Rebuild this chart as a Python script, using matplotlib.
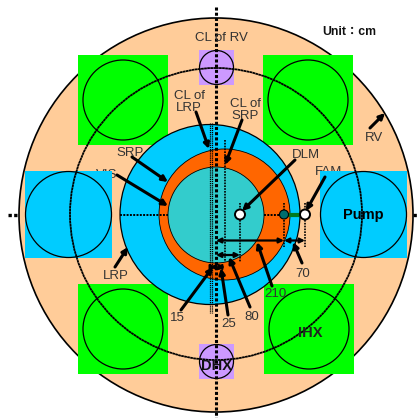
import matplotlib
matplotlib.use("Agg")
import matplotlib.pyplot as plt
from matplotlib.patches import Circle, Rectangle

plt.rcParams['font.family'] = ['Liberation Sans', 'DejaVu Sans']

# Colours
PEACH = '#FFCC99'
BLUE = '#00CCFF'
ORANGE = '#FF6600'
TEAL = '#33CCCC'
GREEN = '#00FF00'
PURPLE = '#CC99FF'
TEXT = '#333333'

# Layout, in pixels (x, y, radius)
vessel = (216, 215, 197)
ring = (216, 214, 146)
lrp = (210, 214.5, 90)
srp = (224.5, 214.5, 65.5)
core = (216, 215, 48)

# Square components: left, top, side
ihx_squares = [(78, 55, 90), (263, 55, 90), (78, 284, 90), (264, 284, 90)]
pump_squares = [(25, 171, 87), (320, 171, 87)]
dhx_squares = [(199, 50, 35), (199, 344, 35)]

# Dotted centre lines: x0, y0, x1, y1, width
dotted = [(216, 7, 216, 418, 2.2), (8, 214.5, 18, 214.5, 2.4), (413, 214.5, 419, 214.5, 2.4),
          (120, 214.5, 168, 214.5, 1.4), (264, 214.5, 284, 214.5, 1.4),
          (209.5, 123, 209.5, 313, 0.9), (212, 123, 212, 313, 0.9),
          (225, 140, 225, 262, 1.2), (240, 203, 240, 262, 1.2),
          (284, 203, 284, 247, 1.2), (305, 203, 305, 247, 1.2)]

# Labels: text, x, y
labels = [('CL of RV', 221.5, 38), ('CL of', 189, 96), ('LRP', 189, 108),
          ('CL of', 245, 104), ('SRP', 245, 116), ('DLM', 306, 155),
          ('SRP', 130, 153), ('LRP', 116, 276), ('RV', 374, 138), ('70', 303, 274),
          ('210', 275, 294), ('80', 252, 317), ('25', 229, 324),
          ('15', 177, 318)]

# Labels that the pump squares cover in part
hidden_labels = [('VIS', 107, 175), ('FAM', 329, 172)]

# Pointer arrows: tail x, tail y, head x, head y
pointers = [(196, 112, 209, 149), (242, 120, 225, 165), (295, 160, 242, 211),
            (325, 177, 306, 211), (132, 157, 168, 182), (117, 175, 168, 206),
            (115, 267, 128, 247), (370, 128, 385, 113), (302, 263, 293, 242),
            (272, 286, 257, 242), (250, 307, 229, 257), (228, 315, 221, 268),
            (181, 310, 213, 267)]

# Dimension arrows: x0, x1, y
dims = [(216, 284, 240.5), (284, 305, 240.5), (216, 240, 255), (210, 216, 267), (216, 225, 267)]

fig = plt.figure(figsize=(4.19, 4.18), dpi=100)
ax = fig.add_axes([0, 0, 1, 1])
ax.set_xlim(0, 419)
ax.set_ylim(418, 0)
ax.axis('off')

ax.add_patch(Circle(vessel[:2], vessel[2], fc=PEACH, ec='black', lw=1.2, zorder=1))

for s, x, y in hidden_labels:
    ax.text(x, y, s, color=TEXT, fontsize=9.5, ha='center', va='center', zorder=1.5)

for x, y, s in ihx_squares:
    ax.add_patch(Rectangle((x, y), s, s, fc=GREEN, ec='none', zorder=2))
    ax.add_patch(Circle((x + s / 2, y + s / 2), 40, fc='none', ec='black', lw=0.9, zorder=3))
for x, y, s in pump_squares:
    ax.add_patch(Rectangle((x, y), s, s, fc=BLUE, ec='none', zorder=2))
    ax.add_patch(Circle((x + s / 2, y + s / 2), 43, fc='none', ec='black', lw=0.9, zorder=3))
for x, y, s in dhx_squares:
    ax.add_patch(Rectangle((x, y), s, s, fc=PURPLE, ec='none', zorder=2))
    ax.add_patch(Circle((x + s / 2, y + s / 2), 17, fc='none', ec='black', lw=0.9, zorder=3))

ax.add_patch(Circle(ring[:2], ring[2], fc='none', ec='black', lw=1.3, ls=(0, (1.5, 0.2)), zorder=3))
ax.add_patch(Circle(lrp[:2], lrp[2], fc=BLUE, ec='black', lw=0.9, zorder=4))
ax.add_patch(Circle(srp[:2], srp[2], fc=ORANGE, ec='black', lw=0.6, zorder=5))
ax.add_patch(Circle(core[:2], core[2], fc=TEAL, ec='black', lw=0.6, zorder=6))

for x0, y0, x1, y1, w in dotted:
    ax.plot([x0, x1], [y0, y1], color='black', lw=w, ls=(0, (1, 0.7)), zorder=7)

# Fuel assembly markers
ax.plot([284, 305], [214.5, 214.5], color='#007A1F', lw=3, zorder=8)
ax.add_patch(Circle((284, 214.5), 4.5, fc='#006E6E', ec='black', lw=0.8, zorder=9))
ax.add_patch(Circle((240, 214.5), 5, fc='white', ec='black', lw=1.4, zorder=9))
ax.add_patch(Circle((305, 214.5), 5, fc='white', ec='black', lw=1.4, zorder=9))

for x0, x1, y in dims:
    ax.annotate('', xy=(x1, y), xytext=(x0, y), zorder=10,
                arrowprops=dict(arrowstyle='<|-|>', color='black', lw=1.6, mutation_scale=7,
                                shrinkA=0, shrinkB=0))

for x0, y0, x1, y1 in pointers:
    ax.annotate('', xy=(x1, y1), xytext=(x0, y0), zorder=10,
                arrowprops=dict(arrowstyle='-|>', color='black', lw=2.2, mutation_scale=8,
                                shrinkA=0, shrinkB=0))

for s, x, y in labels:
    ax.text(x, y, s, color=TEXT, fontsize=9.5, ha='center', va='center', zorder=11)

ax.text(349.5, 32, 'Unit：cm', color='#111111', fontsize=8.8, fontweight='bold',
        family=['Liberation Sans', 'Noto Sans CJK TC'], ha='center', va='center', zorder=11)
ax.text(363, 215, 'Pump', color='black', fontsize=10.5, fontweight='bold', ha='center', va='center', zorder=11)
ax.text(310, 333, 'IHX', color='#222222', fontsize=10.5, fontweight='bold', ha='center', va='center', zorder=11)
ax.text(216, 366, 'DHX', color='#111111', fontsize=10.5, fontweight='bold', ha='center', va='center', zorder=11)

fig.savefig('out.png', dpi=100)
